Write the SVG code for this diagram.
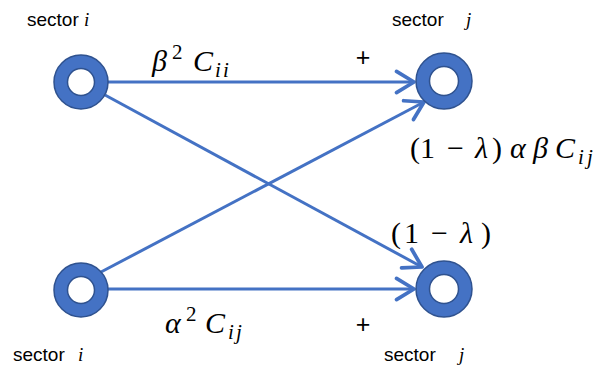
<svg xmlns="http://www.w3.org/2000/svg" width="611" height="367" viewBox="0 0 611 367">
  <defs>
    <style>
      .ring { fill: #4472C4; stroke: #2F528F; stroke-width: 1.5; }
      .hole { fill: #FFFFFF; stroke: #2F528F; stroke-width: 1.5; }
      .edge { stroke: #4472C4; stroke-width: 3; fill: none; marker-end: url(#arrow); }
      .lbl { font-family: "Liberation Sans", Arial, sans-serif; font-size: 19px; fill: #000; }
      .plus { font-family: "Liberation Sans", Arial, sans-serif; font-size: 25px; fill: #000; }
      .mi { font-family: "Liberation Serif", "DejaVu Serif", serif; font-style: italic; }
      .math { font-family: "Liberation Serif", "DejaVu Serif", serif; font-size: 30px; fill: #000; }
      .sub { font-size: 21px; }
      .sup { font-size: 21px; }
    </style>
    <marker id="arrow" markerUnits="userSpaceOnUse" markerWidth="30" markerHeight="30" refX="0" refY="0" viewBox="-16 -12 20 24" orient="auto">
      <path d="M -14 -8.5 L 0 0 L -14 8.5" fill="none" stroke="#4472C4" stroke-width="3" stroke-linecap="round" stroke-linejoin="round"/>
    </marker>
  </defs>

  <g id="connectors">
    <line class="edge" x1="108" y1="82" x2="414" y2="82"/>
    <line class="edge" x1="108" y1="289" x2="414" y2="289"/>
    <line class="edge" x1="105" y1="95" x2="422" y2="267"/>
    <line class="edge" x1="101" y1="272" x2="424" y2="102"/>
  </g>

  <g id="node-i-top">
    <circle class="ring" cx="81" cy="82" r="27"/>
    <circle class="hole" cx="81" cy="82" r="13.5"/>
    <text class="lbl" x="27" y="26">sector <tspan class="mi">i</tspan></text>
  </g>
  <g id="node-j-top">
    <circle class="ring" cx="444" cy="81" r="28"/>
    <circle class="hole" cx="444" cy="81" r="14.5"/>
    <text class="lbl" x="392" y="26">sector <tspan class="mi" x="466">j</tspan></text>
  </g>
  <g id="node-i-bottom">
    <circle class="ring" cx="81" cy="290" r="27"/>
    <circle class="hole" cx="81" cy="290" r="13.5"/>
    <text class="lbl" x="13" y="361">sector <tspan class="mi" x="78">i</tspan></text>
  </g>
  <g id="node-j-bottom">
    <circle class="ring" cx="444" cy="289" r="28"/>
    <circle class="hole" cx="444" cy="289" r="14.5"/>
    <text class="lbl" x="384" y="361">sector <tspan class="mi" x="459">j</tspan></text>
  </g>

  <g id="labels">
    <text class="math" x="152" y="71"><tspan class="mi">β</tspan><tspan class="sup" x="172" dy="-12">2</tspan><tspan class="mi" x="193" dy="12">C</tspan><tspan class="mi sub" x="215" dy="6">i</tspan><tspan class="mi sub" x="223">i</tspan></text>
    <text class="plus" x="363" y="66" text-anchor="middle">+</text>
    <text class="math" x="410" y="158">(<tspan x="420">1</tspan><tspan x="447">−</tspan><tspan class="mi" x="475">λ</tspan><tspan x="492">)</tspan><tspan class="mi" x="510">α</tspan><tspan class="mi" x="533">β</tspan><tspan class="mi" x="555">C</tspan><tspan class="mi sub" x="578" dy="6">i</tspan><tspan class="mi sub" x="587">j</tspan></text>
    <text class="math" x="391" y="243">(<tspan x="404">1</tspan><tspan x="431">−</tspan><tspan class="mi" x="460">λ</tspan><tspan x="481">)</tspan></text>
    <text class="math" x="165" y="333"><tspan class="mi">α</tspan><tspan class="sup" x="186" dy="-12">2</tspan><tspan class="mi" x="205" dy="12">C</tspan><tspan class="mi sub" x="228" dy="6">i</tspan><tspan class="mi sub" x="236">j</tspan></text>
    <text class="plus" x="363" y="333" text-anchor="middle">+</text>
  </g>
</svg>
